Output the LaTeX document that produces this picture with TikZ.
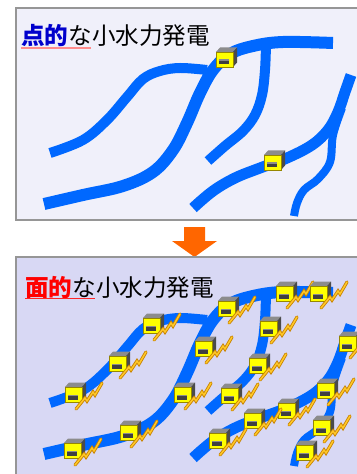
\documentclass[tikz,border=0pt]{standalone}
\usepackage{fontspec}
\newfontfamily\jpfont{Noto Sans CJK JP}
\definecolor{riverblue}{RGB}{0,104,255}
\definecolor{topfill}{RGB}{240,240,250}
\definecolor{botfill}{RGB}{216,216,244}
\definecolor{framegray}{RGB}{150,150,150}
\definecolor{arroworange}{RGB}{255,102,0}
\definecolor{titleblue}{RGB}{0,0,204}
\definecolor{boxyellow}{RGB}{255,255,0}
\definecolor{boxedge}{RGB}{150,135,0}
\definecolor{boxtop}{RGB}{140,140,140}
\definecolor{boxside}{RGB}{75,75,75}
\definecolor{boltgold}{RGB}{200,130,0}
\definecolor{boltlight}{RGB}{255,200,40}

\tikzset{
  panel/.style={draw=framegray, line width=2bp},
  river/.style={draw=riverblue, line cap=butt, line join=round},
  title/.style={anchor=base west, inner sep=0pt, font=\jpfont\fontsize{23.6bp}{26bp}\selectfont},
  gen/.pic={
    % top and side faces of the housing
    \fill[boxtop] (-8,-7) -- (-4,-11.5) -- (13,-11.5) -- (9,-7) -- cycle;
    \fill[boxside] (9,-7) -- (13,-11.5) -- (13,3.5) -- (9,8) -- cycle;
    % front face with its outlet slot
    \filldraw[fill=boxyellow, draw=boxedge, line width=0.8bp] (-8,-7) rectangle (9,8);
    \fill[black!75] (-5.5,0.5) rectangle (5,5.5);
    \fill[black!45] (-5.5,0.5) rectangle (5,2);
  },
  bolt/.pic={
    \draw[boltgold, line width=3.2bp, line join=miter, line cap=round]
      (0,0) -- (9,-11) -- (11,-8) -- (17,-17) -- (19,-14) -- (26,-26);
    \draw[boltlight, line width=1.5bp, line join=miter, line cap=round]
      (0,0) -- (9,-11) -- (11,-8) -- (17,-17) -- (19,-14) -- (26,-26);
  }
}

% the river network, shared by both panels
\newcommand\riverset{%
  \draw[river, line width=10bp] plot[smooth, tension=0.6] coordinates
    {(50,153) (83,140) (107,120) (127,97) (143,79) (160,71) (180,68) (207,70)};
  \draw[river, line width=12bp] plot[smooth, tension=0.6] coordinates
    {(44,204) (83,195) (123,186) (153,172) (173,150) (187,123) (200,93) (213,70) (230,54) (253,46) (283,42) (333,43)};
  \draw[river, line width=10bp] plot[smooth, tension=0.6] coordinates
    {(266,44) (265,70) (262,95) (255,115) (243,131) (225,146) (208,161)};
  \draw[river, line width=11bp] plot[smooth, tension=0.6] coordinates
    {(193,208) (213,191) (235,178) (260,168) (287,158) (312,145) (328,130) (338,112) (345,92) (351,75)};
  \draw[river, line width=8bp] plot[smooth, tension=0.6] coordinates
    {(342,108) (333,135) (330,162) (318,179) (304,190) (297,203) (294,216)};
}

\newcommand\genbolt[2]{%
  \pic at (#1,#2) {gen};
  \pic at ({#1+3},{#2+15}) {bolt};
}

\begin{document}
\begin{tikzpicture}[x=1bp, y=-1bp]
\useasboundingbox (0,0) rectangle (356,474);
\fill[white] (0,0) rectangle (356,474);

% upper panel: a few isolated plants
\draw[panel, fill=topfill] (16,8) rectangle (380,220);
\riverset
\pic at (224,59) {gen};
\pic at (272,162) {gen};
\node[title] (t1) at (21,45) {\textcolor{titleblue}{\bfseries 点的}な小水力発電};
\draw[red!45, line width=1.6bp] (21,48) -- (91,48);

% transition arrow
\fill[arroworange] (184,227) -- (205,227) -- (205,241) -- (217,241) -- (194.5,257)
  -- (172,241) -- (184,241) -- cycle;

% lower panel: plants spread along every stream
\draw[panel, fill=botfill] (16,257) rectangle (380,520);
\begin{scope}[shift={(0,250)}]
  \riverset
\end{scope}
\genbolt{284}{293}
\genbolt{318}{293}
\genbolt{226}{308}
\genbolt{151}{325}
\genbolt{268}{328}
\genbolt{347}{343}
\genbolt{203}{348}
\genbolt{117}{363}
\genbolt{257}{365}
\genbolt{325}{390}
\genbolt{73}{394}
\genbolt{182}{394}
\genbolt{229}{395}
\genbolt{286}{410}
\genbolt{252}{420}
\genbolt{321}{427}
\genbolt{128}{432}
\genbolt{217}{440}
\genbolt{72}{450}
\genbolt{304}{452}
\node[title] (t2) at (25,296) {\textcolor{red}{\bfseries 面的}な小水力発電};
\draw[red!85, line width=1.6bp] (25,298.5) -- (95,298.5);
\end{tikzpicture}
\end{document}
